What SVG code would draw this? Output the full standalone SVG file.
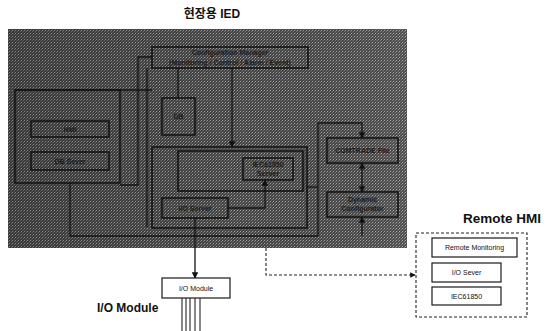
<svg xmlns="http://www.w3.org/2000/svg" width="555" height="331" viewBox="0 0 555 331">
<style>
.t{font-family:"Liberation Sans","Noto Sans CJK KR",sans-serif}
.b{font-weight:bold}
.in{fill:none;stroke:#141414;stroke-width:1.6}
.ln{fill:none;stroke:#141414;stroke-width:1.3}
.dk{font-family:"Liberation Sans",sans-serif;font-size:7px;font-weight:bold;fill:#1c1c1c;text-anchor:middle}
.wb{fill:#fff;stroke:#1a1a1a;stroke-width:1.2}
.wt{font-family:"Liberation Sans",sans-serif;font-size:7px;fill:#111;text-anchor:middle}
.ds{fill:none;stroke:#222;stroke-width:1.1;stroke-dasharray:3 2}
</style>
<defs>
<pattern id="ht" width="3" height="3" patternUnits="userSpaceOnUse">
<rect width="3" height="3" fill="#444"/>
<rect width="1" height="1" fill="#a4a4a4"/>
<rect x="2" y="1" width="1" height="1" fill="#7a7a7a"/>
<rect x="1" y="2" width="1" height="1" fill="#606060"/>
</pattern>
<linearGradient id="sh" x1="0" y1="0" x2="1" y2="0">
<stop offset="0" stop-color="#000" stop-opacity="0.18"/>
<stop offset="0.6" stop-color="#000" stop-opacity="0"/>
<stop offset="1" stop-color="#fff" stop-opacity="0.06"/>
</linearGradient>
<marker id="ah" viewBox="0 0 8 8" refX="7" refY="4" markerWidth="5" markerHeight="5" orient="auto-start-reverse">
<path d="M0,0 L8,4 L0,8 z" fill="#111"/>
</marker>
</defs>
<rect width="555" height="331" fill="#fff"/>
<text class="t b" x="212" y="18" font-size="12" text-anchor="middle" fill="#111">현장용 IED</text>

<g id="field-ied">
<rect x="8" y="29" width="399" height="219" fill="url(#ht)"/>
<rect x="8" y="29" width="399" height="219" fill="url(#sh)"/>
</g>

<g id="connectors">
<path class="ln" d="M15,90 H152"/>
<path class="ln" d="M152,57 H138 V185 H120"/>
<path class="ln" d="M147,68 V227"/>
<path class="ln" d="M178,68 V98"/>
<path class="ln" d="M232,68 V147" marker-end="url(#ah)"/>
<path class="ln" d="M228,208 H265 V180" marker-end="url(#ah)"/>
<path class="ln" d="M70,183 V236 H318"/>
<path class="ln" d="M307,187 H318"/>
<path class="ln" d="M318,236 V123 H362 V138" marker-end="url(#ah)"/>
<path class="ln" d="M362,192 V163" marker-start="url(#ah)" marker-end="url(#ah)"/>
<path class="ln" d="M362,236 V217" marker-end="url(#ah)"/>
<path fill="none" stroke="#111" stroke-width="1.3" d="M195,218 V278" marker-end="url(#ah)"/>
<path class="ds" d="M266,248 V275 H415" marker-end="url(#ah)"/>
<path fill="none" stroke="#111" stroke-width="1" d="M182,298 V331 M186,298 V331 M190,298 V331 M195,298 V331 M200,298 V331"/>
</g>

<g id="config-manager">
<rect class="in" x="152" y="47" width="156" height="21"/>
<text class="dk" x="230" y="55">Configuration Manager</text>
<text class="dk" x="230" y="64.5">(Monitoring / Control / Alarm / Event)</text>
</g>
<g id="left-block">
<rect class="in" x="15" y="90" width="105" height="93"/>
</g>
<g id="hmi">
<rect class="in" x="31" y="121" width="78" height="16"/>
<text class="dk" x="70" y="131.5">HMI</text>
</g>
<g id="db-server">
<rect class="in" x="31" y="152" width="78" height="18"/>
<text class="dk" x="70" y="163.5">DB Sever</text>
</g>
<g id="db">
<rect class="in" x="162" y="98" width="33" height="37"/>
<text class="dk" x="178.5" y="119">DB</text>
</g>
<g id="core-block">
<rect class="in" x="152" y="147" width="155" height="81"/>
<rect class="in" x="178" y="151" width="125" height="40" stroke-width="1"/>
</g>
<g id="iec61850-server">
<rect class="in" x="243" y="158" width="50" height="22"/>
<text class="dk" x="268" y="167">IEC61850</text>
<text class="dk" x="268" y="176">Server</text>
</g>
<g id="io-server">
<rect class="in" x="162" y="198" width="66" height="20"/>
<text class="dk" x="195" y="210.5">I/O Server</text>
</g>
<g id="comtrade">
<rect class="in" x="327" y="138" width="71" height="25"/>
<text class="dk" x="362.5" y="153">COMTRADE File</text>
</g>
<g id="dynamic-configurator">
<rect class="in" x="327" y="192" width="71" height="25"/>
<text class="dk" x="362.5" y="202">Dynamic</text>
<text class="dk" x="362.5" y="211">Configurator</text>
</g>

<g id="io-module">
<rect class="wb" x="162" y="278" width="68" height="20"/>
<text class="wt" x="196" y="290.5">I/O Module</text>
<text class="t b" x="97" y="312" font-size="12" fill="#111">I/O Module</text>
</g>

<g id="remote-hmi">
<text class="t b" x="463" y="223" font-size="13.5" fill="#111">Remote HMI</text>
<rect class="ds" x="416" y="233" width="111" height="84"/>
</g>
<g id="remote-monitoring">
<rect class="wb" x="432" y="238" width="85" height="19"/>
<text class="wt" x="474.5" y="250">Remote Monitoring</text>
</g>
<g id="io-sever">
<rect class="wb" x="432" y="263" width="69" height="19"/>
<text class="wt" x="466.5" y="275">I/O Sever</text>
</g>
<g id="iec61850">
<rect class="wb" x="432" y="287" width="69" height="18"/>
<text class="wt" x="466.5" y="298.5">IEC61850</text>
</g>
</svg>
